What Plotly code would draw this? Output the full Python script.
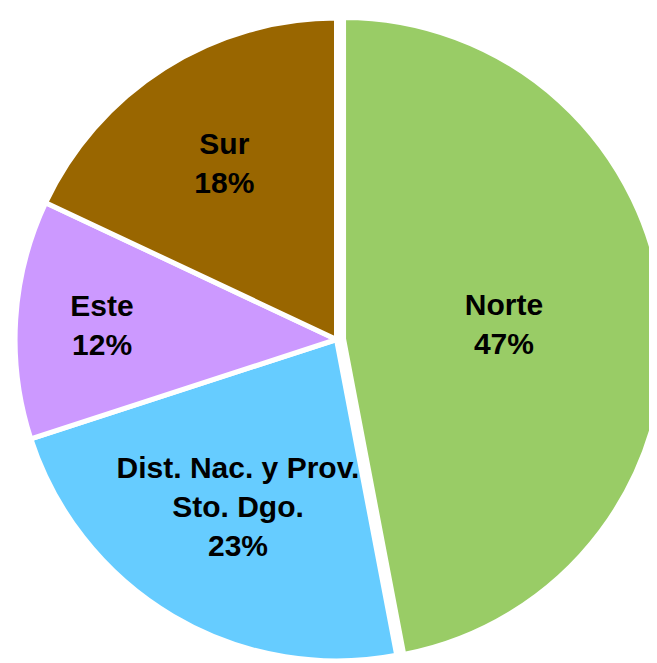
import plotly.graph_objects as go

labels = ["Norte", "Dist. Nac. y Prov.<br>Sto. Dgo.", "Este", "Sur"]
values = [47, 23, 12, 18]
colors = ["#99CC66", "#66CCFF", "#CC99FF", "#996600"]
pulls = [0.022, 0, 0, 0]

fig = go.Figure(go.Pie(
    labels=labels,
    values=values,
    sort=False,
    direction="clockwise",
    rotation=0,
    pull=pulls,
    marker=dict(colors=colors, line=dict(color="white", width=5)),
    texttemplate="<b>%{label}<br>%{value}%</b>",
    textposition="inside",
    insidetextorientation="horizontal",
    textfont=dict(family="Liberation Sans, Arial, sans-serif", size=30, color="black"),
    hoverinfo="label+percent",
    showlegend=False,
))

fig.update_layout(
    width=657, height=663,
    margin=dict(l=0, r=0, t=0, b=0),
    paper_bgcolor="white",
    plot_bgcolor="white",
    uniformtext=dict(minsize=30, mode="show"),
)

fig.write_html("out.html")
